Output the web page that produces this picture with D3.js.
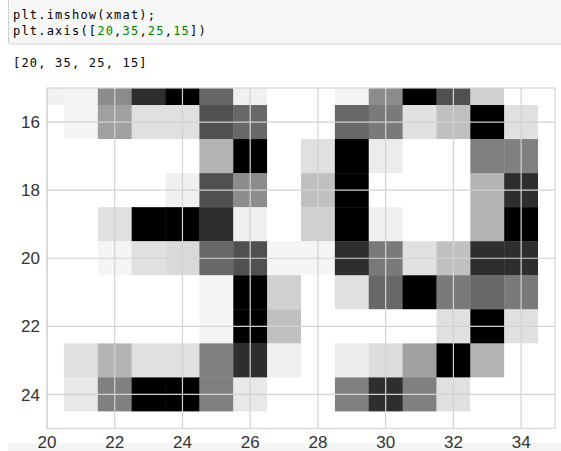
<!DOCTYPE html>
<html>
<head>
<meta charset="utf-8">
<script src="https://d3js.org/d3.v7.min.js"></script>
<style>
  body { margin: 0; background: #fff; }
</style>
</head>
<body>
<div id="my_dataviz"></div>
<script>

// image rows 15..25, columns 20..35 (ink 0 = white, 255 = black)
var rowIdx = [15, 16, 17, 18, 19, 20, 21, 22, 23, 24, 25];
var colIdx = [20, 21, 22, 23, 24, 25, 26, 27, 28, 29, 30, 31, 32, 33, 34, 35];
var xmat = [
  [15, 10, 115, 209, 255, 153, 15, 0, 0, 10, 115, 255, 175, 47, 0, 0],
  [0, 10, 95, 31, 31, 175, 151, 0, 0, 151, 133, 31, 63, 255, 31, 0],
  [0, 0, 0, 0, 0, 75, 255, 0, 31, 255, 19, 0, 0, 127, 127, 0],
  [0, 0, 0, 0, 15, 175, 115, 0, 63, 255, 0, 0, 0, 75, 209, 0],
  [0, 0, 31, 255, 255, 209, 15, 0, 47, 255, 15, 0, 0, 75, 255, 0],
  [0, 0, 10, 31, 37, 151, 175, 10, 10, 209, 133, 31, 63, 209, 209, 0],
  [0, 0, 0, 0, 0, 10, 255, 47, 0, 31, 151, 255, 133, 151, 133, 0],
  [0, 0, 0, 0, 0, 10, 255, 63, 0, 0, 0, 0, 31, 255, 31, 0],
  [0, 31, 75, 31, 31, 127, 209, 15, 0, 19, 35, 95, 255, 75, 0, 0],
  [0, 23, 127, 255, 255, 127, 23, 0, 0, 127, 209, 127, 31, 0, 0, 0],
  [0, 0, 0, 0, 0, 0, 0, 0, 0, 0, 0, 0, 0, 0, 0, 0]
];
var xTicks = [20, 22, 24, 26, 28, 30, 32, 34];
var yTicks = [16, 18, 20, 22, 24];
var axisLimits = [20, 35, 25, 15];

var width = 561, height = 451;
var margin = {top: 88, right: 6, bottom: 23, left: 47};

var svg = d3.select("#my_dataviz")
  .append("svg")
  .attr("width", width)
  .attr("height", height)
  .style("display", "block");

// notebook code cell
svg.append("rect")
  .attr("x", 8.5).attr("y", -2)
  .attr("width", 560).attr("height", 46)
  .attr("rx", 2)
  .style("fill", "#f7f7f7")
  .style("stroke", "#cfcfcf");

var mono = "'DejaVu Sans Mono', 'Liberation Mono', monospace";

var line1 = svg.append("text")
  .attr("x", 13).attr("y", 19)
  .style("font-family", mono).style("font-size", "12px")
  .style("letter-spacing", "1.2px").style("fill", "#000");
line1.append("tspan").text("plt.imshow(xmat);");

var line2 = svg.append("text")
  .attr("x", 13).attr("y", 35)
  .style("font-family", mono).style("font-size", "12px")
  .style("letter-spacing", "1.2px").style("fill", "#000");
line2.append("tspan").text("plt.axis([");
axisLimits.forEach(function(v, i) {
  line2.append("tspan").style("fill", "#008000").text(v);
  if (i < axisLimits.length - 1) line2.append("tspan").text(",");
});
line2.append("tspan").text("])");

// output line
svg.append("text")
  .attr("x", 13).attr("y", 67)
  .style("font-family", mono).style("font-size", "12px")
  .style("letter-spacing", "1.2px").style("fill", "#000")
  .text("[" + axisLimits.join(", ") + "]");

// next cell peeking in at the bottom
svg.append("rect")
  .attr("x", 8).attr("y", 443)
  .attr("width", 553).attr("height", 10)
  .style("fill", "#f5f5f5");

// scales
var x = d3.scaleLinear()
  .domain([axisLimits[0], axisLimits[1]])
  .range([margin.left, width - margin.right]);
var y = d3.scaleLinear()
  .domain([axisLimits[3], axisLimits[2]])
  .range([margin.top, height - margin.bottom + 0.5]);

var myColor = d3.scaleLinear()
  .domain([0, 255])
  .range(["#ffffff", "#000000"]);

svg.append("defs").append("clipPath")
  .attr("id", "clip")
  .append("rect")
  .attr("x", x.range()[0]).attr("y", y.range()[0])
  .attr("width", x.range()[1] - x.range()[0])
  .attr("height", y.range()[1] - y.range()[0]);

// axes background
svg.append("rect")
  .attr("x", x.range()[0]).attr("y", y.range()[0])
  .attr("width", x.range()[1] - x.range()[0])
  .attr("height", y.range()[1] - y.range()[0])
  .style("fill", "#fff");

// the cells
var cells = [];
xmat.forEach(function(row, r) {
  row.forEach(function(v, c) {
    cells.push({row: rowIdx[r], col: colIdx[c], value: v});
  });
});

svg.append("g")
  .attr("clip-path", "url(#clip)")
  .selectAll("rect")
  .data(cells)
  .enter()
  .append("rect")
    .attr("x", function(d) { return x(d.col - 0.5); })
    .attr("y", function(d) { return y(d.row - 0.5); })
    .attr("width", function(d) { return x(d.col + 0.5) - x(d.col - 0.5) + 0.4; })
    .attr("height", function(d) { return y(d.row + 0.5) - y(d.row - 0.5) + 0.4; })
    .style("fill", function(d) { return myColor(d.value); });

// grid lines on top of the image
var grid = svg.append("g")
  .style("stroke", "#d2d2d2")
  .style("stroke-width", 1.2);
grid.selectAll(".vx")
  .data(xTicks)
  .enter().append("line")
    .attr("x1", function(d) { return x(d); })
    .attr("x2", function(d) { return x(d); })
    .attr("y1", y.range()[0])
    .attr("y2", y.range()[1]);
grid.selectAll(".hy")
  .data(yTicks)
  .enter().append("line")
    .attr("x1", x.range()[0])
    .attr("x2", x.range()[1])
    .attr("y1", function(d) { return y(d); })
    .attr("y2", function(d) { return y(d); });

// frame
svg.append("rect")
  .attr("x", x.range()[0]).attr("y", y.range()[0])
  .attr("width", x.range()[1] - x.range()[0])
  .attr("height", y.range()[1] - y.range()[0])
  .style("fill", "none")
  .style("stroke", "#d6d6d6")
  .style("stroke-width", 1.2);

// tick labels
var sans = "'Liberation Sans', Arial, sans-serif";
svg.append("g")
  .selectAll("text")
  .data(xTicks)
  .enter().append("text")
    .attr("x", function(d) { return x(d); })
    .attr("y", 448)
    .attr("text-anchor", "middle")
    .style("font-family", sans)
    .style("font-size", "17px")
    .style("fill", "#333")
    .text(function(d) { return d; });

svg.append("g")
  .selectAll("text")
  .data(yTicks)
  .enter().append("text")
    .attr("x", 40)
    .attr("y", function(d) { return y(d); })
    .attr("dy", "0.36em")
    .attr("text-anchor", "end")
    .style("font-family", sans)
    .style("font-size", "17px")
    .style("fill", "#333")
    .text(function(d) { return d; });

</script>
</body>
</html>
